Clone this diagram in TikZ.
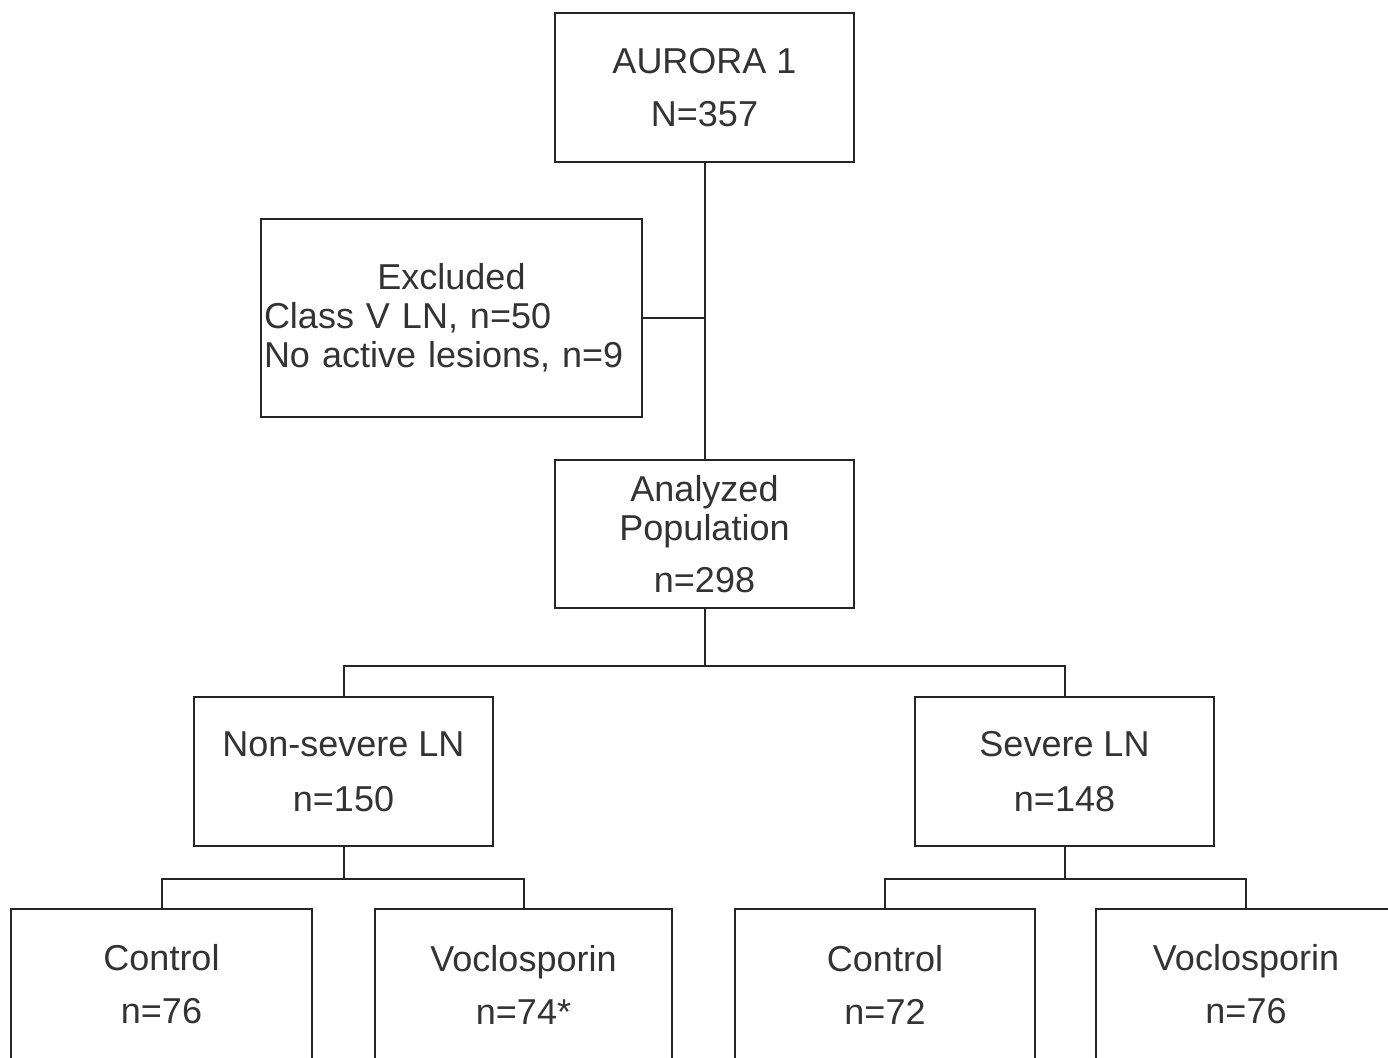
\documentclass[tikz,border=0pt]{standalone}
\usepackage{fontspec}
\setmainfont{Liberation Sans}
\definecolor{linecol}{HTML}{262626}
\definecolor{txtcol}{HTML}{333333}
\begin{document}
\begin{tikzpicture}[x=1pt,y=-1pt,
  boxnode/.style={draw=linecol, line width=2pt, inner sep=0pt, align=center,
    text=txtcol, font=\fontsize{36}{39}\selectfont, minimum width=299pt, minimum height=149pt},
  link/.style={draw=linecol, line width=2pt}]
\useasboundingbox (0,0) rectangle (1388,1057);
\clip (0,0) rectangle (1388,1057);
\fill[white] (0,0) rectangle (1388,1057);
\node[boxnode] (top) at (704.5,87.5) {AURORA 1\\[14pt]N=357};
\node[boxnode, minimum width=381pt, minimum height=198pt, text width=375pt, inner xsep=3pt, align=left] (excl) at (451.5,318)
  {\makebox[375pt][c]{Excluded}\\Class V LN, n=50\\No active lesions, n=9};
\node[boxnode, minimum height=148pt] (anal) at (704.5,534) {Analyzed\\Population\\[13pt]n=298};
\node[boxnode] (nons) at (343.5,771.5) {Non-severe LN\\[16pt]n=150};
\node[boxnode] (sev) at (1064.5,771.5) {Severe LN\\[16pt]n=148};
\node[boxnode, minimum width=301pt, minimum height=151pt] (c1) at (161.5,984.5) {Control\\[14pt]n=76};
\node[boxnode, minimum width=297pt, minimum height=151pt] (v1) at (523.5,984.5) {Voclosporin\\[14pt]n=74*};
\node[boxnode, minimum width=300pt, minimum height=151pt] (c2) at (885,984.5) {Control\\[14pt]n=72};
\node[boxnode, minimum width=300pt, minimum height=151pt] (v2) at (1246,984.5) {Voclosporin\\[14pt]n=76};
\draw[link] (top.south) -- (anal.north);
\coordinate (exj) at (excl.east -| top.south);
\draw[link] (excl.east) -- (exj);
\coordinate (aj) at ([yshift=-57pt]anal.south);
\draw[link] (anal.south) -- (aj);
\draw[link] (nons.north) |- (aj) -| (sev.north);
\coordinate (nj) at ([yshift=-32pt]nons.south);
\draw[link] (nons.south) -- (nj);
\draw[link] (c1.north) |- (nj) -| (v1.north);
\coordinate (sj) at ([yshift=-32pt]sev.south);
\draw[link] (sev.south) -- (sj);
\draw[link] (c2.north) |- (sj) -| (v2.north);
\end{tikzpicture}
\end{document}
